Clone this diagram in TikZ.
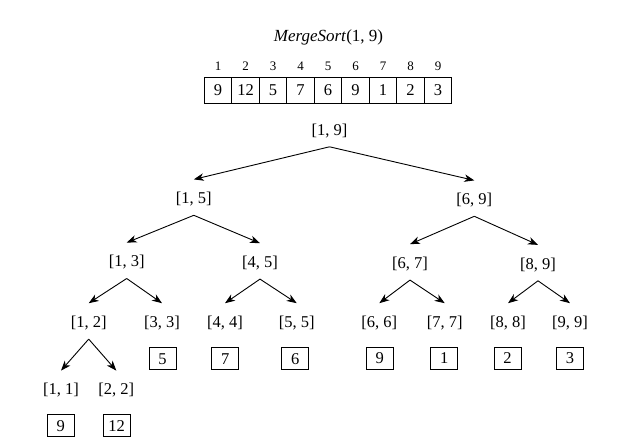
\documentclass[tikz,border=0pt]{standalone}
\usepackage{fontspec}
\setmainfont{Liberation Serif}
\usetikzlibrary{arrows.meta}
\begin{document}
\begin{tikzpicture}[x=1pt,y=-1pt,
  lbl/.style={inner sep=0pt,text height=24pt,text depth=11.5pt,anchor=base,font=\fontsize{16.5}{19}\selectfont},
  val/.style={draw,line width=0.8pt,minimum width=27pt,minimum height=22pt,inner sep=0pt,text height=11.2pt,text depth=0pt,font=\fontsize{16.5}{19}\selectfont},
  cell/.style={draw,line width=0.8pt,minimum width=27.5pt,minimum height=26pt,inner sep=0pt,outer sep=0pt,text height=11.2pt,text depth=0pt,font=\fontsize{16.5}{19}\selectfont},
  idx/.style={inner sep=0pt,anchor=base,font=\fontsize{13}{15}\selectfont},
  arr/.style={line width=0.9pt,-{Stealth[length=10pt,width=7.5pt,inset=3pt]}}]
\useasboundingbox (0,0) rectangle (630,447);
% title
\node[inner sep=0pt,font=\fontsize{17}{20}\selectfont] (title) at (328.5,37) {\textit{MergeSort}(1, 9)};
% array
\foreach \v [count=\i] in {9,12,5,7,6,9,1,2,3}{
  \node[cell] (c\i) at ({218.05+27.5*(\i-1)},90.3) {\v};
  \node[idx] (i\i) at ({218.05+27.5*(\i-1)},70.1) {\i};
}
% tree labels (anchor base; y = visual centre + 4.1)
\node[lbl] (n19) at (329.5,135.1) {[1, 9]};
\node[lbl] (n15) at (193.8,203.6) {[1, 5]};
\node[lbl] (n69) at (474.3,204.6) {[6, 9]};
\node[lbl] (n13) at (126.7,266.8) {[1, 3]};
\node[lbl] (n45) at (260,267.4) {[4, 5]};
\node[lbl] (n67) at (410,268.4) {[6, 7]};
\node[lbl] (n89) at (538,269.1) {[8, 9]};
\node[lbl] (n12) at (88.7,327.4) {[1, 2]};
\node[lbl] (n33) at (162,327.4) {[3, 3]};
\node[lbl] (n44) at (225,327.4) {[4, 4]};
\node[lbl] (n55) at (296.7,327.4) {[5, 5]};
\node[lbl] (n66) at (379.3,327.4) {[6, 6]};
\node[lbl] (n77) at (444.7,327.4) {[7, 7]};
\node[lbl] (n88) at (508,327.4) {[8, 8]};
\node[lbl] (n99) at (570,327.4) {[9, 9]};
\node[lbl] (n11) at (61,394.8) {[1, 1]};
\node[lbl] (n22) at (116.3,394.8) {[2, 2]};
% value boxes
\node[val] (b33) at (162.5,358.8) {5};
\node[val] (b44) at (225.2,358.8) {7};
\node[val] (b55) at (295.2,358.8) {6};
\node[val] (b66) at (379.7,358.3) {9};
\node[val] (b77) at (444.3,358.3) {1};
\node[val] (b88) at (507.5,358.3) {2};
\node[val] (b99) at (570,358.3) {3};
\node[val] (b11) at (60.8,425.8) {9};
\node[val] (b22) at (116.7,425.8) {12};
% arrows
\foreach \p/\c in {n19/n15,n19/n69,n15/n13,n15/n45,n69/n67,n69/n89,
  n13/n12,n13/n33,n45/n44,n45/n55,n67/n66,n67/n77,n89/n88,n89/n99,n12/n11,n12/n22}
  \draw[arr] (\p.south) -- (\c.north);
\end{tikzpicture}
\end{document}
